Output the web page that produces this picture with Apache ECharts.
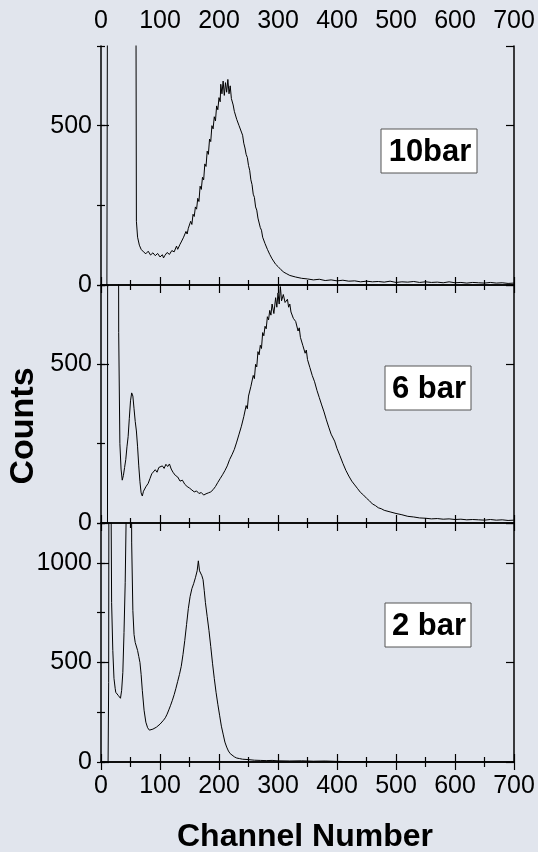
<!DOCTYPE html>
<html>
<head>
<meta charset="utf-8">
<script src="https://cdn.jsdelivr.net/npm/echarts@6/dist/echarts.min.js"></script>
<style>
html,body{margin:0;padding:0;background:#e1e5ed;}
#chart{width:538px;height:852px;}
</style>
</head>
<body>
<div id="chart"></div>
<script>
// ---- data: [channel, counts] pairs ----
const spec10bar = [[0,0],[10,0],[11,0],[12,2000],[58,2000],[60,200],[62,150],[65,125],[68,112],[72,104],[76,98],[80,106],[84,94],[88,101],[92,92],[96,99],[100,88],[104,95],[106,85],[108,92],[112,102],[116,96],[120,108],[124,104],[128,122],[130,112],[132,118],[134,128],[136,135],[138,130],[140,150],[142,145],[144,168],[146,160],[148,178],[150,172],[152,200],[154,190],[156,222],[158,215],[160,245],[162,238],[164,272],[166,262],[168,310],[170,300],[172,338],[174,330],[176,380],[178,372],[180,420],[182,410],[184,458],[186,450],[188,500],[190,490],[192,528],[194,515],[196,562],[198,550],[200,588],[202,575],[203,630],[205,600],[207,640],[209,595],[211,635],[213,605],[215,645],[217,600],[219,625],[221,585],[224,565],[226,545],[228,550],[230,520],[232,525],[234,500],[236,505],[238,480],[240,470],[242,445],[244,430],[246,410],[248,400],[250,375],[252,360],[254,330],[256,315],[258,285],[260,275],[262,245],[264,235],[266,210],[268,205],[270,180],[272,172],[274,150],[276,152],[278,130],[280,128],[282,112],[284,110],[286,96],[288,95],[290,82],[292,78],[296,65],[300,58],[305,48],[310,40],[315,35],[320,30],[330,25],[340,21],[350,19],[360,16],[370,18],[380,14],[390,16],[400,13],[410,15],[420,12],[430,13],[440,10],[450,12],[460,10],[470,11],[480,9],[490,12],[500,8],[510,10],[520,9],[530,11],[540,8],[550,10],[560,8],[570,9],[580,7],[590,10],[600,7],[610,8],[620,6],[630,8],[640,7],[650,6],[660,8],[670,6],[680,7],[690,5],[700,6]];

const spec6bar = [[0,0],[11,0],[12,3000],[28,3000],[30,600],[32,250],[34,170],[36,135],[38,150],[40,175],[42,200],[44,240],[46,272],[48,330],[50,385],[52,410],[53,415],[54,400],[56,360],[58,320],[60,290],[62,240],[64,180],[66,130],[68,95],[70,85],[72,100],[74,95],[76,114],[78,108],[80,125],[83,140],[86,155],[89,150],[92,168],[95,160],[98,175],[101,170],[104,180],[107,172],[110,185],[113,178],[116,186],[119,170],[122,160],[126,150],[130,145],[134,132],[138,135],[142,122],[146,115],[150,110],[154,104],[158,98],[162,101],[166,93],[170,96],[174,88],[178,92],[182,95],[186,98],[190,105],[194,115],[198,128],[202,140],[206,152],[210,165],[214,180],[218,200],[222,215],[226,232],[230,255],[234,280],[238,305],[242,335],[246,370],[248,360],[250,400],[252,395],[254,430],[256,425],[258,465],[260,455],[262,500],[264,492],[266,540],[268,530],[270,560],[272,550],[274,600],[276,590],[278,620],[280,612],[282,650],[284,640],[286,670],[288,655],[290,690],[293,660],[296,710],[298,680],[300,725],[302,690],[304,745],[306,700],[309,720],[312,695],[316,705],[318,680],[320,690],[322,665],[324,660],[326,645],[328,640],[330,635],[332,630],[334,605],[336,615],[338,585],[340,590],[342,560],[344,560],[346,535],[348,545],[350,515],[352,520],[354,490],[356,495],[358,465],[360,470],[362,445],[364,445],[366,418],[368,420],[370,395],[372,400],[374,372],[376,375],[378,350],[380,350],[382,325],[384,325],[386,302],[388,300],[390,280],[392,280],[396,258],[400,235],[405,212],[410,188],[415,166],[420,148],[425,132],[430,120],[435,108],[440,96],[445,88],[450,78],[455,70],[460,60],[465,55],[470,48],[475,45],[480,40],[490,35],[500,30],[510,26],[520,21],[530,19],[540,16],[550,15],[560,13],[570,14],[580,12],[590,13],[600,11],[610,12],[620,10],[630,11],[640,10],[650,9],[660,11],[670,9],[680,10],[690,8],[700,9]];

const spec2bar = [[0,0],[12,0],[13,400],[14,3000],[16,3000],[18,800],[20,560],[22,420],[24,370],[25,350],[27,345],[29,335],[31,340],[33,320],[35,360],[37,450],[39,650],[41,900],[43,1300],[44,3000],[50,3000],[52,1100],[54,760],[56,640],[58,600],[60,590],[62,560],[64,530],[66,500],[68,440],[70,360],[73,260],[76,200],[79,172],[82,160],[85,150],[88,165],[91,158],[94,175],[97,180],[100,190],[103,195],[106,210],[109,222],[112,240],[115,262],[118,285],[121,310],[124,338],[127,370],[130,405],[133,440],[136,480],[139,540],[142,610],[145,690],[148,770],[151,830],[154,870],[157,895],[160,925],[163,960],[165,1010],[167,960],[169,955],[171,935],[173,915],[175,860],[177,800],[180,730],[183,660],[186,580],[189,496],[192,420],[195,350],[198,290],[201,235],[204,180],[207,140],[210,100],[213,75],[216,55],[219,42],[222,34],[226,26],[230,20],[235,17],[240,14],[250,12],[260,9],[270,8],[280,7],[290,8],[300,6],[320,5],[340,6],[360,4],[380,5],[400,3],[420,2],[440,2],[460,1],[480,1],[500,0],[550,0],[600,0],[650,0],[700,0]];

const xTicks = [0,100,200,300,400,500,600,700];
const panelLabels = ['10bar','6 bar','2 bar'];
const yMax = [750,750,1200];

// ---- layout ----
const BG = '#e1e5ed';
const TICKFONT = 'Liberation Sans, Arial, sans-serif';
const BOLDFONT = 'Liberation Sans, Arial, sans-serif';
const grids = [
  {left:101, top:46, width:413, height:239},
  {left:101, top:285, width:413, height:238},
  {left:101, top:523, width:413, height:239}
];
const lineStyle = {color:'#000', width:1.5};
const fmt = v => String(v);

const xAxes = [], yAxes = [];
grids.forEach((g, i) => {
  ['bottom','top'].forEach(pos => {
    const showLab = (pos === 'bottom' && i === 2) || (pos === 'top' && i === 0);
    xAxes.push({
      type:'value', gridIndex:i, position:pos, min:xTicks[0], max:xTicks[xTicks.length-1], interval:100,
      axisLine:{show:true, lineStyle:lineStyle},
      axisTick:{show:true, inside:true, length:8, lineStyle:{color:'#000', width:1.2}},
      minorTick:{show:true, splitNumber:2, length:5, lineStyle:{color:'#000', width:1.2}},
      splitLine:{show:false}, minorSplitLine:{show:false},
      axisLabel:{show:showLab, formatter:fmt, color:'#000', fontFamily:TICKFONT, fontSize:25, margin: pos==='top'?12:12}
    });
  });
  ['left','right'].forEach(pos => {
    yAxes.push({
      type:'value', gridIndex:i, position:pos, min:0, max:yMax[i], interval:500,
      axisLine:{show:true, onZero:false, lineStyle:lineStyle},
      axisTick:{show:true, inside:true, length:8, lineStyle:{color:'#000', width:1.2}},
      splitLine:{show:false},
      axisLabel:{show:pos==='left', formatter:fmt, showMaxLabel:false, color:'#000', fontFamily:TICKFONT, fontSize:25, margin:9}
    });
    yAxes.push({
      type:'value', gridIndex:i, position:pos, min:0, max:yMax[i], interval:250,
      axisLine:{show:false},
      axisTick:{show:true, inside:true, length:4, lineStyle:{color:'#000', width:1.2}},
      splitLine:{show:false},
      axisLabel:{show:false}
    });
  });
});

const seriesData = [spec10bar, spec6bar, spec2bar];
const series = seriesData.map((d, i) => ({
  type:'line', name:panelLabels[i], data:d, xAxisIndex:2*i, yAxisIndex:4*i,
  showSymbol:false, clip:true, animation:false,
  lineStyle:{color:'#000', width:1}
}));

const boxes = [
  {x:381, y:129, w:96, h:44},
  {x:385, y:366, w:86, h:44},
  {x:385, y:603, w:86, h:44}
];
const graphic = [];
boxes.forEach((b, i) => {
  graphic.push({type:'rect', shape:{x:b.x, y:b.y, width:b.w, height:b.h}, style:{fill:'#fff', stroke:'#555', lineWidth:1}, z:10});
  graphic.push({type:'text', x:b.x+b.w/2+1, y:b.y+b.h/2+1, style:{text:panelLabels[i], font:'bold 31px ' + BOLDFONT, fill:'#000', textAlign:'center', textVerticalAlign:'middle'}, z:11});
});
graphic.push({type:'text', x:24, y:426, rotation:Math.PI/2, style:{text:'Counts', font:'bold 34px ' + BOLDFONT, fill:'#000', textAlign:'center', textVerticalAlign:'middle'}});
graphic.push({type:'text', x:305, y:837, style:{text:'Channel Number', font:'bold 32px ' + BOLDFONT, fill:'#000', textAlign:'center', textVerticalAlign:'middle'}});

const chart = echarts.init(document.getElementById('chart'), null, {renderer:'canvas'});
chart.setOption({
  backgroundColor:BG,
  animation:false,
  grid:grids,
  xAxis:xAxes,
  yAxis:yAxes,
  series:series,
  graphic:graphic
});
</script>
</body>
</html>
